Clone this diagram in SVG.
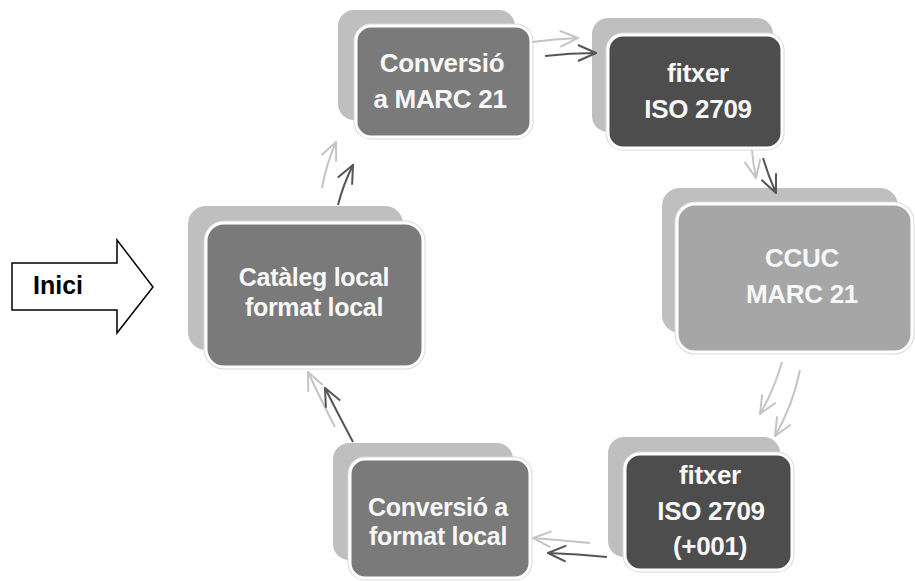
<svg xmlns="http://www.w3.org/2000/svg" width="915" height="581" viewBox="0 0 915 581">
<style>
.back{fill:#bfbfbf}
.halo{fill:none;stroke:#d9d9d9;stroke-width:5}
.front{stroke:#ffffff;stroke-width:3}
.mid{fill:#7a7a7a}
.dark{fill:#4d4d4d}
.light{fill:#a6a6a6}
.lbl{font-family:"Liberation Sans",Arial,sans-serif;font-weight:bold;font-size:26px;letter-spacing:-0.3px;fill:#f7f7f7;text-anchor:middle}
.tight{font-size:25px}
.cl{fill:none;stroke:#c4c4c4;stroke-width:2;marker-end:url(#hl)}
.cd{fill:none;stroke:#555555;stroke-width:2;marker-end:url(#hd)}
</style>
<defs>
<marker id="hl" viewBox="0 0 20 18" markerWidth="20" markerHeight="18" refX="19" refY="9" orient="auto" markerUnits="userSpaceOnUse">
<path d="M1,1 L19,9 L1,17" fill="none" stroke="#c4c4c4" stroke-width="2"/>
</marker>
<marker id="hd" viewBox="0 0 20 18" markerWidth="20" markerHeight="18" refX="19" refY="9" orient="auto" markerUnits="userSpaceOnUse">
<path d="M1,1 L19,9 L1,17" fill="none" stroke="#555555" stroke-width="2"/>
</marker>
</defs>
<rect width="915" height="581" fill="#ffffff"/>

<g id="inici">
<polygon points="12,263 117,263 117,240 153,287 117,333 117,310 12,310" fill="#ffffff" stroke="#000000" stroke-width="1.5"/>
<text x="58" y="294" font-family="Liberation Sans,Arial,sans-serif" font-weight="bold" font-size="25" fill="#000000" text-anchor="middle">Inici</text>
</g>

<g id="node-conversio-marc">
<rect class="back" x="338" y="10" width="177" height="110" rx="16"/>
<rect class="halo" x="356" y="26" width="175" height="111" rx="15"/>
<rect class="front mid" x="356" y="26" width="175" height="111" rx="15"/>
<text class="lbl" x="442" y="72">Conversió</text>
<text class="lbl" x="440" y="108">a MARC 21</text>
</g>

<g id="node-fitxer-iso">
<rect class="back" x="592" y="18" width="181" height="114" rx="16"/>
<rect class="halo" x="608" y="35" width="174" height="113" rx="15"/>
<rect class="front dark" x="608" y="35" width="174" height="113" rx="15"/>
<text class="lbl" x="698" y="82">fitxer</text>
<text class="lbl" x="698" y="118">ISO 2709</text>
</g>

<g id="node-ccuc">
<rect class="back" x="662" y="188" width="236" height="145" rx="18"/>
<rect class="halo" x="677" y="204" width="235" height="148" rx="18"/>
<rect class="front light" x="677" y="204" width="235" height="148" rx="18"/>
<text class="lbl" x="802" y="267">CCUC</text>
<text class="lbl" x="802" y="303">MARC 21</text>
</g>

<g id="node-fitxer-001">
<rect class="back" x="608" y="437" width="172" height="120" rx="16"/>
<rect class="halo" x="625" y="454" width="167" height="116" rx="15"/>
<rect class="front dark" x="625" y="454" width="167" height="116" rx="15"/>
<text class="lbl" x="710" y="484">fitxer</text>
<text class="lbl" x="711" y="520">ISO 2709</text>
<text class="lbl" x="710" y="555">(+001)</text>
</g>

<g id="node-conversio-local">
<rect class="back" x="333" y="443" width="180" height="117" rx="16"/>
<rect class="halo" x="350" y="459" width="180" height="119" rx="15"/>
<rect class="front mid" x="350" y="459" width="180" height="119" rx="15"/>
<text class="lbl tight" x="438" y="516">Conversió a</text>
<text class="lbl tight" x="438" y="545">format local</text>
</g>

<g id="node-cataleg">
<rect class="back" x="188" y="206" width="215" height="144" rx="18"/>
<rect class="halo" x="206" y="223" width="217" height="144" rx="18"/>
<rect class="front mid" x="206" y="223" width="217" height="144" rx="18"/>
<text class="lbl tight" x="314" y="286">Catàleg local</text>
<text class="lbl tight" x="314" y="316">format local</text>
</g>

<g id="connectors">
<path class="cl" d="M532,42 Q555,39 578,38"/>
<path class="cd" d="M545,56 Q570,53 596,53"/>
<path class="cl" d="M752,150 Q753,163 756,178"/>
<path class="cd" d="M763,158 Q768,175 776,193"/>
<path class="cl" d="M782,362 Q774,390 760,414"/>
<path class="cl" d="M800,370 Q793,405 775,436"/>
<path class="cl" d="M590,543 Q560,540 533,538"/>
<path class="cd" d="M607,557 Q578,554 548,553"/>
<path class="cl" d="M335,427 Q320,398 308,372"/>
<path class="cd" d="M353,442 Q338,414 325,388"/>
<path class="cl" d="M322,188 Q326,165 336,142"/>
<path class="cd" d="M338,205 Q343,185 353,165"/>
</g>
</svg>
